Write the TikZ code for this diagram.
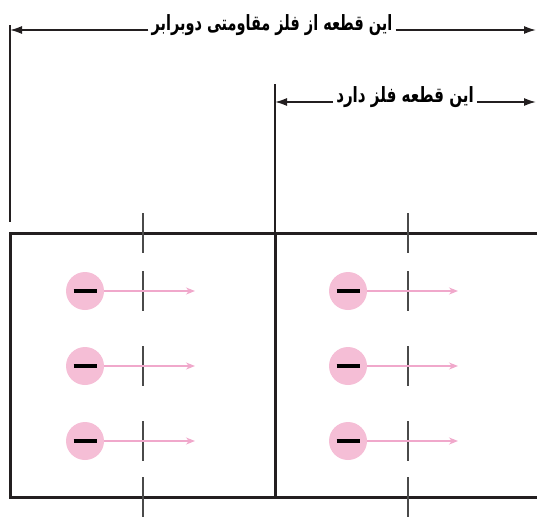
\documentclass[tikz,border=0pt]{standalone}
\usepackage{fontspec}
\newfontfamily\farsifont[Script=Arabic]{DejaVu Sans}
\TeXXeTstate=1
\usetikzlibrary{arrows.meta}
\definecolor{elecpink}{HTML}{F5BED6}
\definecolor{driftpink}{HTML}{F0A8CB}
\definecolor{tickgray}{HTML}{4A4A4A}
\definecolor{wirebk}{HTML}{231F20}

\begin{document}
\begin{tikzpicture}[x=1pt,y=-1pt,
    dimarrow/.style={wirebk, line width=1.6pt, -{Latex[length=12pt,width=8pt]}},
    edge/.style={wirebk, line width=3pt},
    guide/.style={wirebk, line width=1.5pt},
    tickmark/.style={tickgray, line width=1.8pt},
    electron/.style={circle, fill=elecpink, minimum size=38pt, inner sep=0pt},
    drift/.style={driftpink, line width=1.3pt, -{Stealth[length=9pt,width=7pt]}},
    farsitext/.style={font=\farsifont\bfseries\fontsize{21}{24}\selectfont, inner sep=3pt, anchor=base}]
    \useasboundingbox (0,0) rectangle (537,517);

    % dimension arrows
    \coordinate (wholeL) at (10,30);
    \coordinate (wholeR) at (536,30);
    \node[farsitext] (whole) at (272,30) {\scalebox{0.69}[1]{\beginR این قطعه از فلز مقاومتی دوبرابر\endR}};
    \draw[dimarrow] (whole.base west) -- (wholeL);
    \draw[dimarrow] (whole.base east) -- (wholeR);

    \coordinate (halfL) at (275,102);
    \coordinate (halfR) at (536,102);
    \node[farsitext] (half) at (405,102) {\scalebox{0.72}[1]{\beginR این قطعه فلز دارد\endR}};
    \draw[dimarrow] (half.base west) -- (halfL);
    \draw[dimarrow] (half.base east) -- (halfR);

    \draw[guide] (10,25) -- (10,222);
    \draw[guide] (275,84) -- (275,233);

    % the wire
    \draw[edge] (537,233) -- (10,233) -- (10,497) -- (537,497);
    \draw[edge] (275,233) -- (275,497);

    % cross-section marks
    \foreach \x in {143,408}
        \foreach \y in {233,291,366,441,497}
            \draw[tickmark] (\x,\y-20) -- (\x,\y+20);

    % electrons
    \foreach \x in {85,348}
        \foreach \y in {291,366,441} {
            \node[electron] (e\x-\y) at (\x,\y) {\rule{23pt}{3.2pt}};
            \coordinate (d\x-\y) at (\x+110,\y);
            \draw[drift] (e\x-\y) -- (d\x-\y);
        }
\end{tikzpicture}
\end{document}
